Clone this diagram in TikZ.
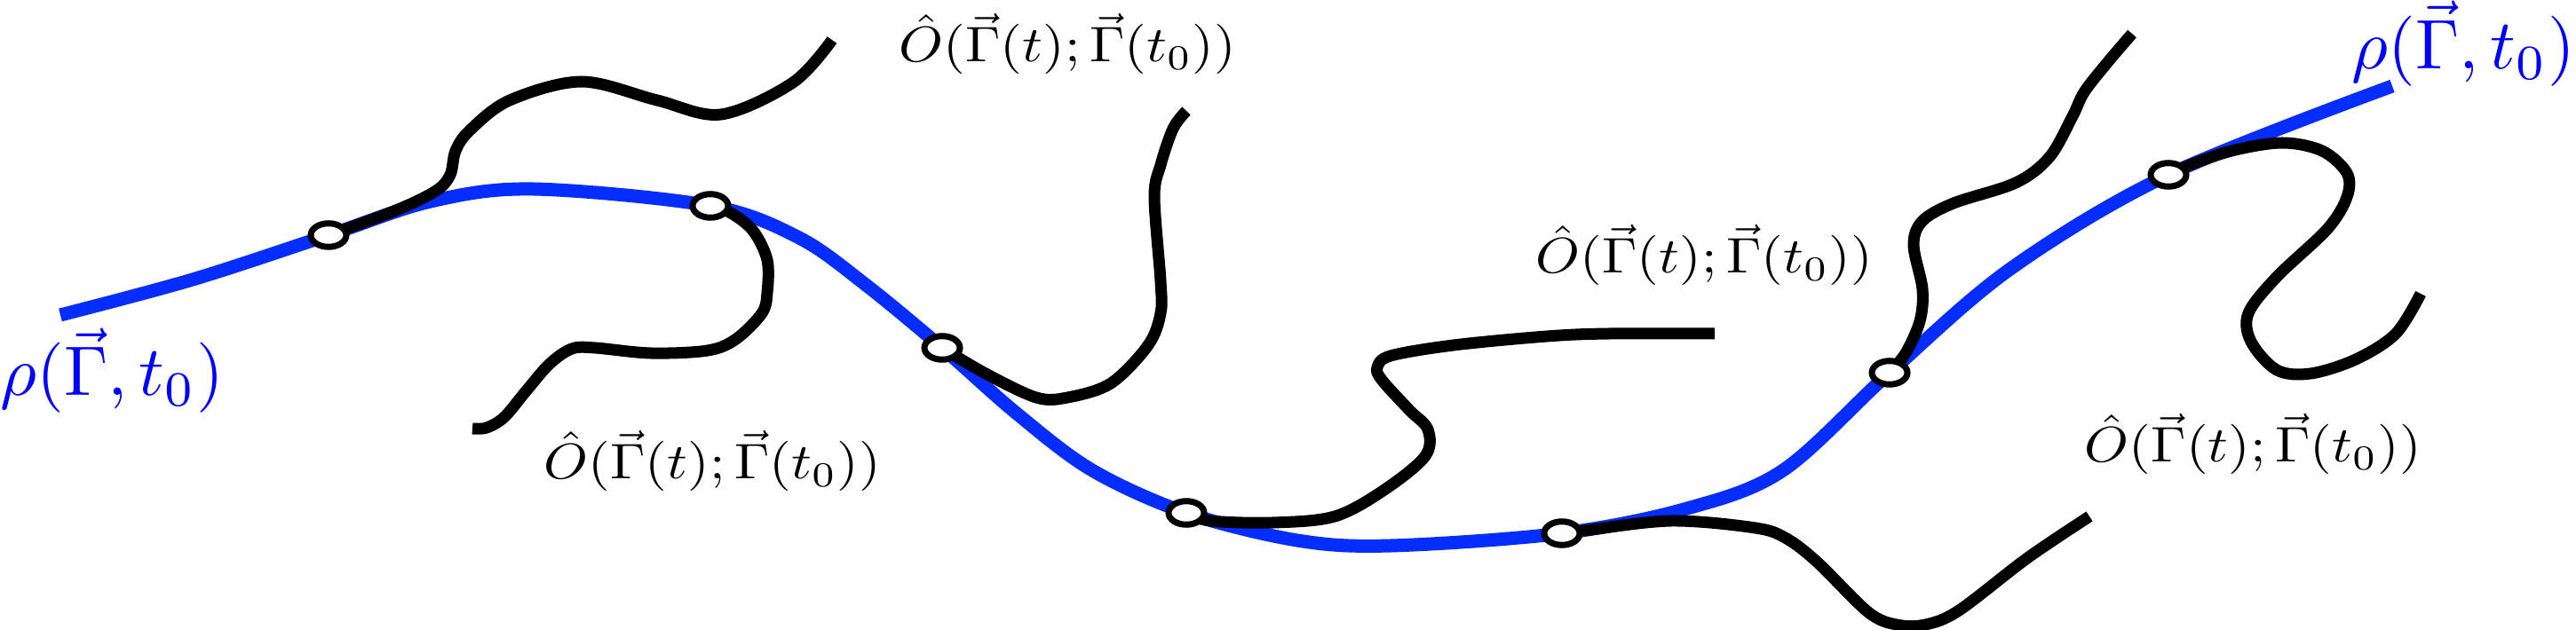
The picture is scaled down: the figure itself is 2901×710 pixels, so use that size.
\documentclass[tikz,border=0pt]{standalone}
\usepackage{graphicx}
\usetikzlibrary{shapes.geometric}
\definecolor{rhoblue}{RGB}{5,45,255}
\definecolor{rhotext}{RGB}{0,0,255}
\newcommand\opexpr{\resizebox{3.79cm}{\height}{\scalebox{1.6}{$\hat O(\vec\Gamma(t);\vec\Gamma(t_0))$}}}
\newcommand\rhoexpr{\scalebox{2.25}{$\rho(\vec\Gamma,t_0)$}}
\begin{document}
\begin{tikzpicture}[x=0.01cm,y=-0.01cm,
  rho/.style={draw=rhoblue,line width=0.15cm},
  traj/.style={draw=black,line width=0.13cm},
  pt/.style={ellipse,draw=black,fill=white,line width=0.07cm,minimum width=0.40cm,minimum height=0.265cm,inner sep=0pt},
  olab/.style={inner sep=0pt,anchor=base west},
  rlab/.style={inner sep=0pt,anchor=base west,text=rhotext}]
\useasboundingbox (0,0) rectangle (2901,710);

% contact points
\coordinate (p1) at (370,265);
\coordinate (p2) at (800,232);
\coordinate (p3) at (1061,392);
\coordinate (p4) at (1336,578);
\coordinate (p5) at (1759,601);
\coordinate (p6) at (2128,420);
\coordinate (p7) at (2442,197);

% distribution curve
\draw[rho] plot[smooth,tension=0.55] coordinates {(68,355) (217,315) (p1) (485,227) (600,213) (p2) (900,268) (975,321) (p3) (1145,466) (1230,530) (p4) (1461,609) (1566,615) (p5) (1900,573) (2008,530) (p6) (2264,303) (p7) (2694,97)};

% trajectories
\draw[traj] plot[smooth,tension=0.55] coordinates {(p1) (446,237) (491,215) (507,197) (513,170) (529,147) (574,113) (655,92) (740,113) (812,129) (893,93) (937,45)};
\draw[traj] plot[smooth,tension=0.55] coordinates {(p2) (823,240) (848,260) (864,293) (864,330) (858,353) (829,382) (797,395) (733,398) (670,392) (644,393) (619,410) (593,440) (568,470) (548,482) (532,483)};
\draw[traj] plot[smooth,tension=0.55] coordinates {(p3) (1110,421) (1167,448) (1202,448) (1251,432) (1293,389) (1307,353) (1307,317) (1300,222) (1307,186) (1321,145) (1336,125)};
\draw[traj] plot[smooth,tension=0.55] coordinates {(p4) (1363,587) (1433,589) (1503,582) (1559,552) (1605,514) (1608,484) (1587,462) (1556,428) (1551,414) (1566,401) (1637,389) (1742,379) (1812,376) (1931,376)};
\draw[traj] plot[smooth,tension=0.55] coordinates {(p5) (1784,598) (1882,587) (1977,595) (2012,607) (2047,634) (2104,690) (2136,704) (2168,704) (2206,688) (2283,629) (2353,582)};
\draw[traj] plot[smooth,tension=0.55] coordinates {(p6) (2146,398) (2162,362) (2165,326) (2155,276) (2165,249) (2200,229) (2270,206) (2308,177) (2334,131) (2347,104) (2372,72) (2401,38)};
\draw[traj] plot[smooth,tension=0.55] coordinates {(p7) (2461,188) (2513,170) (2570,161) (2615,170) (2643,195) (2643,222) (2621,258) (2564,312) (2532,353) (2535,385) (2564,417) (2602,421) (2653,405) (2698,376) (2726,331)};

% contact markers
\node[pt] (c1) at (p1) {};
\node[pt] (c2) at (p2) {};
\node[pt] (c3) at (p3) {};
\node[pt] (c4) at (p4) {};
\node[pt] (c5) at (p5) {};
\node[pt] (c6) at (p6) {};
\node[pt] (c7) at (p7) {};

% labels
\node[rlab] (rL) at (0,446) {\rhoexpr};
\node[rlab] (rR) at (2648,78) {\rhoexpr};
\node[olab] (o1) at (1012,70) {\opexpr};
\node[olab] (o2) at (1729,308) {\opexpr};
\node[olab] (o3) at (612,540) {\opexpr};
\node[olab] (o4) at (2347,521) {\opexpr};
\end{tikzpicture}
\end{document}
